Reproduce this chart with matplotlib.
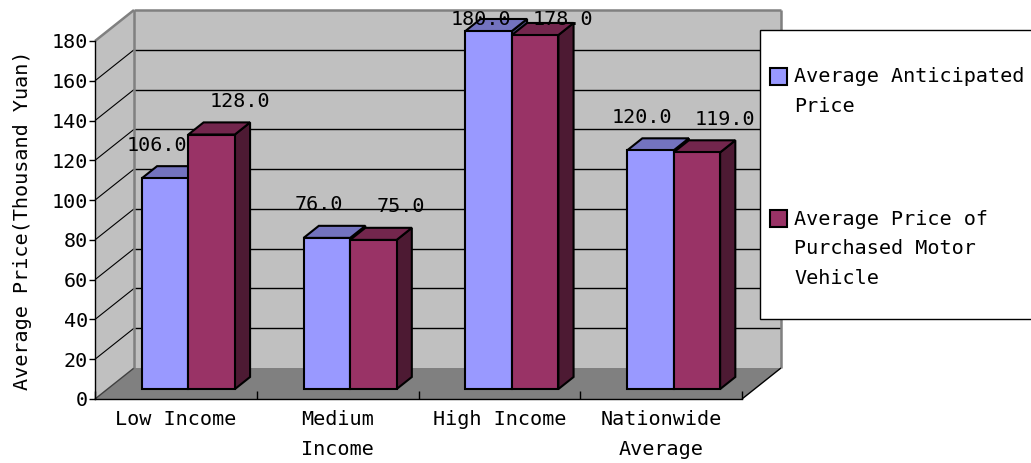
import matplotlib.pyplot as plt
from matplotlib.patches import Polygon, Rectangle

categories = ['Low Income', 'Medium\nIncome', 'High Income', 'Nationwide\nAverage']
series_names = ['Average Anticipated\nPrice', 'Average Price of\nPurchased Motor\nVehicle']
anticipated = [106.0, 76.0, 180.0, 120.0]
purchased = [128.0, 75.0, 178.0, 119.0]
y_ticks = [0, 20, 40, 60, 80, 100, 120, 140, 160, 180]

face_colors = ['#9999FF', '#993366']
top_colors = ['#7373BF', '#73264D']
side_colors = ['#4C4C80', '#4D1A33']

plt.rcParams['font.family'] = 'DejaVu Sans Mono'
plt.rcParams['font.size'] = 14.5

W_PX, H_PX = 1031, 463
fig = plt.figure(figsize=(W_PX / 100, H_PX / 100), dpi=100)
fig.patch.set_facecolor('white')

# front plane of the 3-D box: x in category units, y in value units
ax = fig.add_axes([95 / W_PX, 64 / H_PX, 647 / W_PX, 358 / H_PX])
ax.set_xlim(0, len(categories))
ax.set_ylim(0, y_ticks[-1])
ax.patch.set_visible(False)

# oblique depth offset (full depth of the box) in data units
DX = 39 / 647 * len(categories)
DY = 31 / 358 * y_ticks[-1]
Z1, Z2 = 0.32, 0.71          # bar depth range
BAR_W = 0.2875               # bar width in category units


def proj(x, y, z):
    return (x + z * DX, y + z * DY)


def poly(pts, fc, ec='none', lw=0, z=1):
    ax.add_patch(Polygon(pts, closed=True, facecolor=fc, edgecolor=ec,
                         linewidth=lw, zorder=z, clip_on=False,
                         joinstyle='miter'))


def line(p, q, color, lw, z=1.5):
    ax.plot([p[0], q[0]], [p[1], q[1]], color=color, lw=lw, zorder=z,
            clip_on=False, solid_capstyle='butt')


n = len(categories)
top = y_ticks[-1]

# walls and floor
poly([proj(0, 0, 1), proj(n, 0, 1), proj(n, top, 1), proj(0, top, 1)], '#C0C0C0', z=0)
poly([proj(0, 0, 0), proj(0, 0, 1), proj(0, top, 1), proj(0, top, 0)], '#C0C0C0', z=0)
poly([proj(0, 0, 0), proj(n, 0, 0), proj(n, 0, 1), proj(0, 0, 1)], '#808080', z=0.5)

# gridlines on back and side walls
for v in y_ticks[1:-1]:
    line(proj(0, v, 1), proj(n, v, 1), 'black', 1.0)
    line(proj(0, v, 0), proj(0, v, 1), 'black', 0.8)
line(proj(0, 0, 0), proj(0, 0, 1), '#404040', 1.0)

# wall borders
for p, q in [((0, 0, 1), (0, top, 1)), ((0, top, 1), (n, top, 1)),
             ((n, 0, 1), (n, top, 1)), ((0, top, 0), (0, top, 1))]:
    line(proj(*p), proj(*q), '#808080', 1.8)
line(proj(n, 0, 0), proj(n, 0, 1), 'black', 1.0)

# bars
label_dx = [-8 / 647 * n, 28 / 647 * n]
label_dy = 33 / 358 * top
for i in range(n):
    for s, values in enumerate([anticipated, purchased]):
        v = values[i]
        x0 = i + 0.5 - BAR_W + s * BAR_W
        x1 = x0 + BAR_W
        kw = dict(ec='black', lw=1.5, z=3)
        poly([proj(x1, 0, Z1), proj(x1, 0, Z2), proj(x1, v, Z2), proj(x1, v, Z1)],
             side_colors[s], **kw)
        poly([proj(x0, v, Z1), proj(x1, v, Z1), proj(x1, v, Z2), proj(x0, v, Z2)],
             top_colors[s], **kw)
        poly([proj(x0, 0, Z1), proj(x1, 0, Z1), proj(x1, v, Z1), proj(x0, v, Z1)],
             face_colors[s], **kw)
        fx, fy = proj((x0 + x1) / 2, v, Z1)
        ty = min(fy + label_dy, top + DY - 5)
        ax.text(fx + label_dx[s], ty, f'{v:.1f}', ha='center', va='center',
                zorder=5, clip_on=False)

# axes, ticks and labels
for side in ['top', 'right']:
    ax.spines[side].set_visible(False)
for side in ['left', 'bottom']:
    ax.spines[side].set_color('black')
    ax.spines[side].set_linewidth(1.0)
    ax.spines[side].set_zorder(2)

ax.set_yticks(y_ticks)
ax.tick_params(axis='y', direction='out', length=4, width=1, pad=1)
ax.set_xticks(range(n + 1))
ax.set_xticklabels([])
ax.tick_params(axis='x', which='major', direction='in', length=6, width=1)
ax.set_xticks([i + 0.5 for i in range(n)], minor=True)
ax.set_xticklabels(categories, minor=True)
ax.tick_params(axis='x', which='minor', length=0, pad=8)
for t in ax.get_xticklabels(minor=True):
    t.set_linespacing(1.7)
ax.set_ylabel('Average Price(Thousand Yuan)', labelpad=14)

# legend box
fig.patches.append(Rectangle((760 / W_PX, 1 - 319 / H_PX), 0.4, 289 / H_PX,
                             transform=fig.transFigure, facecolor='white',
                             edgecolor='black', lw=1.0, zorder=10))
for s, (name, y_px) in enumerate(zip(series_names, [76, 219])):
    fig.patches.append(Rectangle((770 / W_PX, 1 - (y_px + 8.5) / H_PX),
                                 17 / W_PX, 17 / H_PX,
                                 transform=fig.transFigure,
                                 facecolor=face_colors[s], edgecolor='black',
                                 lw=1.5, zorder=11))
    fig.text(794 / W_PX, 1 - (y_px - 9) / H_PX, name, ha='left', va='top',
             linespacing=1.7, zorder=12)

fig.savefig('out.png', dpi=100)
